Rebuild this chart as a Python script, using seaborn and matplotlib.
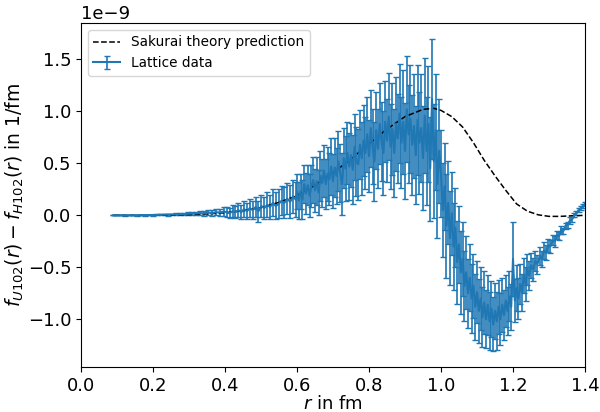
import matplotlib
matplotlib.use("Agg")
import matplotlib.pyplot as plt
import numpy as np
import pandas as pd
import seaborn as sns

# Lattice data: r in fm, value and error in units of 1e-9 1/fm
r_lattice = [
    0.089, 0.100, 0.111, 0.122, 0.133, 0.144, 0.155, 0.166, 0.177, 0.188,
    0.199, 0.210, 0.221, 0.232, 0.243, 0.254, 0.265, 0.276, 0.287, 0.298,
    0.309, 0.320, 0.331, 0.342, 0.353, 0.364, 0.375, 0.386, 0.397,
    0.405, 0.413, 0.421, 0.429, 0.437, 0.445, 0.453, 0.461, 0.469, 0.477,
    0.485, 0.493, 0.501, 0.509, 0.517, 0.525, 0.533, 0.541, 0.549, 0.557,
    0.565, 0.573, 0.581, 0.589, 0.597,
    0.600, 0.605, 0.610, 0.615, 0.620, 0.625, 0.630, 0.635, 0.640, 0.645,
    0.650, 0.655, 0.660, 0.665, 0.670, 0.675, 0.680, 0.685, 0.690, 0.695,
    0.700, 0.705, 0.710, 0.715, 0.720, 0.725, 0.730, 0.735, 0.740, 0.745,
    0.750, 0.755, 0.760, 0.765, 0.770, 0.775, 0.780, 0.785, 0.790, 0.795,
    0.800, 0.805, 0.810, 0.815, 0.820, 0.825, 0.830, 0.835, 0.840, 0.845,
    0.850, 0.855, 0.860, 0.865, 0.870, 0.875, 0.880, 0.885, 0.890, 0.895,
    0.900, 0.905, 0.910, 0.915, 0.920, 0.925, 0.930, 0.935, 0.940, 0.945,
    0.950, 0.955, 0.960, 0.965, 0.970, 0.975, 0.980, 0.985, 0.990, 0.995,
    1.000, 1.005, 1.010, 1.015, 1.020, 1.025, 1.030, 1.035, 1.040, 1.045,
    1.050, 1.055, 1.060, 1.065, 1.070, 1.075, 1.080, 1.085, 1.090, 1.095,
    1.100, 1.105, 1.110, 1.115, 1.120, 1.125, 1.130, 1.135, 1.140, 1.145,
    1.150, 1.155, 1.160, 1.165, 1.170, 1.175, 1.180, 1.185, 1.190, 1.195,
    1.200, 1.205, 1.210, 1.215, 1.220, 1.225, 1.230, 1.235, 1.240, 1.245,
    1.250, 1.256, 1.262, 1.268, 1.274, 1.280, 1.286, 1.292, 1.298, 1.304,
    1.310, 1.316, 1.322, 1.328, 1.334, 1.340, 1.346, 1.352, 1.358, 1.364,
    1.370, 1.376, 1.382, 1.388, 1.394, 1.400,
]
f_lattice = [
    0.000, 0.000, 0.000, 0.000, 0.001, 0.001, 0.001, 0.002, 0.002, 0.003,
    0.003, 0.004, 0.005, 0.006, 0.006, 0.008, 0.010, 0.011, 0.012, 0.015,
    0.016, 0.018, 0.021, 0.020, 0.026, 0.022, 0.030, 0.028, 0.036,
    0.03, 0.02, 0.04, 0.03, 0.05, 0.03, 0.06, 0.04, 0.07, 0.05,
    0.08, 0.04, 0.09, 0.07, 0.10, 0.08, 0.12, 0.09, 0.11, 0.14,
    0.12, 0.16, 0.13, 0.18, 0.15,
    0.23, 0.14, 0.23, 0.15, 0.30, 0.21, 0.29, 0.19, 0.28, 0.34,
    0.24, 0.33, 0.22, 0.38, 0.31, 0.43, 0.30, 0.40, 0.35, 0.47,
    0.33, 0.46, 0.38, 0.52, 0.41, 0.30, 0.55, 0.45, 0.60, 0.47,
    0.58, 0.44, 0.66, 0.52, 0.49, 0.68, 0.55, 0.72, 0.60, 0.78,
    0.57, 0.84, 0.66, 0.52, 0.82, 0.64, 0.88, 0.71, 0.60, 0.90,
    0.72, 0.95, 0.66, 0.83, 0.60, 0.88, 0.74, 0.98, 0.70, 0.90,
    0.62, 1.02, 0.78, 0.93, 0.68, 0.86, 0.58, 0.92, 0.70, 0.84,
    0.55, 0.96, 0.62, 0.88, 0.45, 1.12, 0.52, 0.80, 0.30, 0.62,
    0.40, 0.05, 0.28, -0.10, 0.12, -0.22, 0.02, -0.30, -0.12, -0.45,
    -0.28, -0.55, -0.42, -0.68, -0.55, -0.75, -0.60, -0.80, -0.68, -0.88,
    -0.74, -0.92, -0.80, -0.98, -0.84, -1.00, -0.86, -1.02, -0.90, -1.05,
    -0.92, -1.02, -0.88, -1.00, -0.86, -0.96, -0.82, -0.92, -0.78, -0.88,
    -0.42, -0.82, -0.70, -0.80, -0.66, -0.74, -0.58, -0.66, -0.52, -0.58,
    -0.48, -0.52, -0.44, -0.47, -0.39, -0.42, -0.34, -0.36, -0.29, -0.30,
    -0.24, -0.25, -0.19, -0.20, -0.14, -0.15, -0.10, -0.09, -0.05, -0.04,
    0.00, 0.02, 0.05, 0.07, 0.09, 0.11,
]
err_lattice = [
    0.001, 0.001, 0.001, 0.002, 0.002, 0.002, 0.003, 0.003, 0.004, 0.004,
    0.005, 0.005, 0.006, 0.007, 0.008, 0.009, 0.010, 0.011, 0.012, 0.014,
    0.016, 0.018, 0.020, 0.022, 0.025, 0.028, 0.031, 0.034, 0.040,
    0.05, 0.05, 0.06, 0.06, 0.07, 0.07, 0.08, 0.08, 0.09, 0.09,
    0.10, 0.10, 0.11, 0.11, 0.12, 0.12, 0.13, 0.13, 0.14, 0.14,
    0.15, 0.15, 0.16, 0.16, 0.17,
    0.17, 0.18, 0.17, 0.19, 0.18, 0.20, 0.19, 0.21, 0.20, 0.22,
    0.21, 0.23, 0.22, 0.24, 0.23, 0.25, 0.24, 0.26, 0.25, 0.27,
    0.26, 0.28, 0.27, 0.29, 0.28, 0.30, 0.29, 0.31, 0.30, 0.32,
    0.31, 0.33, 0.32, 0.33, 0.34, 0.33, 0.35, 0.34, 0.35, 0.36,
    0.35, 0.37, 0.36, 0.38, 0.37, 0.38, 0.39, 0.38, 0.40, 0.39,
    0.40, 0.42, 0.41, 0.44, 0.42, 0.45, 0.43, 0.48, 0.44, 0.50,
    0.46, 0.51, 0.47, 0.52, 0.48, 0.50, 0.47, 0.53, 0.49, 0.52,
    0.50, 0.55, 0.52, 0.56, 0.50, 0.58, 0.55, 0.56, 0.52, 0.50,
    0.42, 0.45, 0.42, 0.50, 0.40, 0.45, 0.40, 0.42, 0.38, 0.40,
    0.37, 0.40, 0.36, 0.34, 0.35, 0.33, 0.32, 0.33, 0.31, 0.32,
    0.30, 0.31, 0.30, 0.29, 0.30, 0.28, 0.29, 0.28, 0.27, 0.26,
    0.27, 0.28, 0.26, 0.25, 0.26, 0.24, 0.25, 0.23, 0.24, 0.22,
    0.36, 0.21, 0.22, 0.20, 0.19, 0.18, 0.17, 0.16, 0.15, 0.14,
    0.12, 0.11, 0.10, 0.09, 0.09, 0.08, 0.08, 0.07, 0.06, 0.06,
    0.05, 0.05, 0.04, 0.04, 0.04, 0.03, 0.03, 0.03, 0.03, 0.02,
    0.02, 0.02, 0.02, 0.02, 0.02, 0.02,
]

# Sakurai theory curve, same units
r_theory = [0.09, 0.15, 0.20, 0.25, 0.30, 0.35, 0.40, 0.45, 0.50, 0.55,
            0.60, 0.65, 0.70, 0.75, 0.80, 0.85, 0.90, 0.95, 0.98, 1.00,
            1.03, 1.06, 1.09, 1.12, 1.15, 1.18, 1.21, 1.24, 1.27, 1.30,
            1.33, 1.36, 1.40]
f_theory = [0.000, 0.000, 0.001, 0.003, 0.007, 0.014, 0.025, 0.045, 0.075, 0.125,
            0.19, 0.29, 0.41, 0.54, 0.69, 0.83, 0.95, 1.02, 1.03, 1.01,
            0.95, 0.85, 0.70, 0.53, 0.38, 0.24, 0.11, 0.04, 0.005, -0.01,
            -0.01, -0.005, 0.0]

SCALE = 1e-9

df_lat = pd.DataFrame({"r": r_lattice, "f": f_lattice, "err": err_lattice})
df_lat[["f", "err"]] *= SCALE
df_th = pd.DataFrame({"r": r_theory, "f": f_theory})
df_th["f"] *= SCALE

plt.rcParams["font.size"] = 13

fig, ax = plt.subplots(figsize=(6, 4.12), dpi=100)
fig.subplots_adjust(left=0.135, right=0.975, top=0.944, bottom=0.109)

ax.errorbar(df_lat["r"], df_lat["f"], yerr=df_lat["err"], fmt="-",
            color="tab:blue", elinewidth=1.2, capsize=2, label="Lattice data")
sns.lineplot(data=df_th, x="r", y="f", ax=ax, color="black", linestyle="--",
             linewidth=1.1, label="Sakurai theory prediction")

ax.set_xlim(0, 1.4)
ax.set_xlabel(r"$r$ in fm", labelpad=0)
ax.set_ylabel(r"$f_{U102}(r) - f_{H102}(r)$ in 1/fm", fontsize=13.5, labelpad=1)
ax.legend(loc="upper left", fontsize=9.8)

fig.savefig("out.png", dpi=100)
